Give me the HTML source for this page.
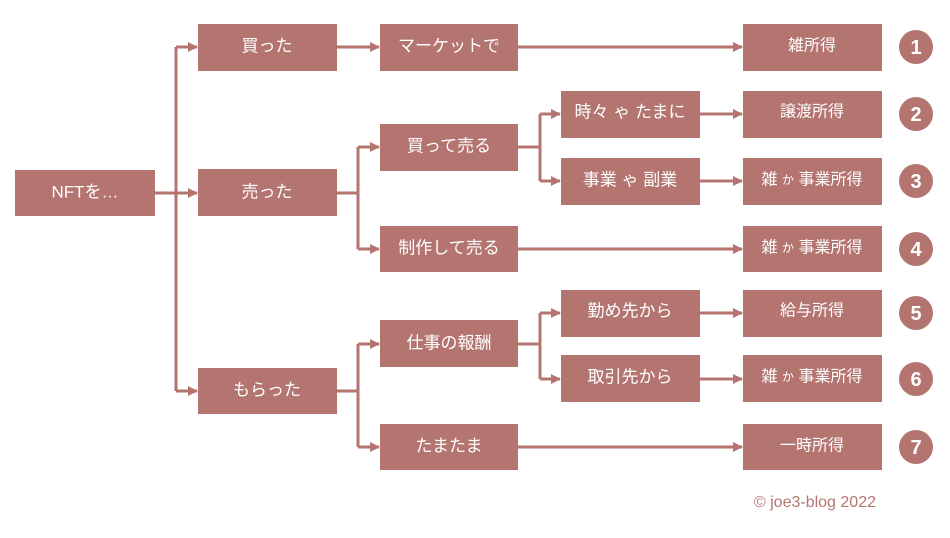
<!DOCTYPE html>
<html><head><meta charset="utf-8"><style>
html,body{margin:0;padding:0;background:#fff;}
svg text{font-family:"Liberation Sans","Noto Sans CJK JP",sans-serif;}
</style></head><body>
<svg width="950" height="533" viewBox="0 0 950 533" xmlns="http://www.w3.org/2000/svg">
<defs>
<marker id="a" markerWidth="10" markerHeight="10" refX="9" refY="5" orient="auto" markerUnits="userSpaceOnUse">
<path d="M0,0 L10,5 L0,10 Z" fill="#b47571"/>
</marker>
</defs>
<g stroke="#b47571" stroke-width="3" fill="none">
<!-- trunk -->
<line x1="155" y1="193" x2="176" y2="193"/>
<line x1="176" y1="47" x2="176" y2="391"/>
<line x1="176" y1="47" x2="197" y2="47" marker-end="url(#a)"/>
<line x1="176" y1="193" x2="197" y2="193" marker-end="url(#a)"/>
<line x1="176" y1="391" x2="197" y2="391" marker-end="url(#a)"/>
<!-- row1 -->
<line x1="337" y1="47" x2="379" y2="47" marker-end="url(#a)"/>
<line x1="518" y1="47" x2="742" y2="47" marker-end="url(#a)"/>
<!-- sold -->
<line x1="337" y1="193" x2="358" y2="193"/>
<line x1="358" y1="147" x2="358" y2="249"/>
<line x1="358" y1="147" x2="379" y2="147" marker-end="url(#a)"/>
<line x1="358" y1="249" x2="379" y2="249" marker-end="url(#a)"/>
<line x1="518" y1="147" x2="540" y2="147"/>
<line x1="540" y1="114" x2="540" y2="181"/>
<line x1="540" y1="114" x2="560" y2="114" marker-end="url(#a)"/>
<line x1="540" y1="181" x2="560" y2="181" marker-end="url(#a)"/>
<line x1="700" y1="114" x2="742" y2="114" marker-end="url(#a)"/>
<line x1="700" y1="181" x2="742" y2="181" marker-end="url(#a)"/>
<line x1="518" y1="249" x2="742" y2="249" marker-end="url(#a)"/>
<!-- received -->
<line x1="337" y1="391" x2="358" y2="391"/>
<line x1="358" y1="344" x2="358" y2="447"/>
<line x1="358" y1="344" x2="379" y2="344" marker-end="url(#a)"/>
<line x1="358" y1="447" x2="379" y2="447" marker-end="url(#a)"/>
<line x1="518" y1="344" x2="540" y2="344"/>
<line x1="540" y1="313" x2="540" y2="379"/>
<line x1="540" y1="313" x2="560" y2="313" marker-end="url(#a)"/>
<line x1="540" y1="379" x2="560" y2="379" marker-end="url(#a)"/>
<line x1="700" y1="313" x2="742" y2="313" marker-end="url(#a)"/>
<line x1="700" y1="379" x2="742" y2="379" marker-end="url(#a)"/>
<line x1="518" y1="447" x2="742" y2="447" marker-end="url(#a)"/>
</g>
<g fill="#b47571">
<rect x="15" y="170" width="140" height="46"/>
<rect x="198" y="24" width="139" height="47"/>
<rect x="198" y="169" width="139" height="47"/>
<rect x="198" y="368" width="139" height="46"/>
<rect x="380" y="24" width="138" height="47"/>
<rect x="380" y="124" width="138" height="47"/>
<rect x="380" y="226" width="138" height="46"/>
<rect x="380" y="320" width="138" height="47"/>
<rect x="380" y="424" width="138" height="46"/>
<rect x="561" y="91" width="139" height="47"/>
<rect x="561" y="158" width="139" height="47"/>
<rect x="561" y="290" width="139" height="47"/>
<rect x="561" y="355" width="139" height="47"/>
<rect x="743" y="24" width="139" height="47"/>
<rect x="743" y="91" width="139" height="47"/>
<rect x="743" y="158" width="139" height="47"/>
<rect x="743" y="226" width="139" height="46"/>
<rect x="743" y="290" width="139" height="47"/>
<rect x="743" y="355" width="139" height="47"/>
<rect x="743" y="424" width="139" height="46"/>
<circle cx="916" cy="47" r="17"/>
<circle cx="916" cy="114" r="17"/>
<circle cx="916" cy="181" r="17"/>
<circle cx="916" cy="249" r="17"/>
<circle cx="916" cy="313" r="17"/>
<circle cx="916" cy="379" r="17"/>
<circle cx="916" cy="447" r="17"/>
</g>
<g fill="#fff" font-size="17" text-anchor="middle" dominant-baseline="central">
<text x="85" y="192">NFTを…</text>
<text x="267" y="46">買った</text>
<text x="267" y="192">売った</text>
<text x="267" y="390">もらった</text>
<text x="449" y="46">マーケットで</text>
<text x="449" y="146">買って売る</text>
<text x="449" y="248">制作して売る</text>
<text x="449" y="343">仕事の報酬</text>
<text x="449" y="446">たまたま</text>
<text x="630" y="112">時々 ゃ たまに</text>
<text x="630" y="180">事業 ゃ 副業</text>
<text x="630" y="311">勤め先から</text>
<text x="630" y="377">取引先から</text>
<text x="812" y="46" font-size="16">雑所得</text>
<text x="812" y="112" font-size="16">譲渡所得</text>
<text x="812" y="180" font-size="16">雑 <tspan font-size="12">か</tspan> 事業所得</text>
<text x="812" y="248" font-size="16">雑 <tspan font-size="12">か</tspan> 事業所得</text>
<text x="812" y="311" font-size="16">給与所得</text>
<text x="812" y="377" font-size="16">雑 <tspan font-size="12">か</tspan> 事業所得</text>
<text x="812" y="446" font-size="16">一時所得</text>
<g font-weight="bold" font-size="20">
<text x="916" y="48">1</text>
<text x="916" y="115">2</text>
<text x="916" y="182">3</text>
<text x="916" y="250">4</text>
<text x="916" y="314">5</text>
<text x="916" y="380">6</text>
<text x="916" y="448">7</text>
</g>
</g>
<text x="876" y="507" text-anchor="end" fill="#b47571" font-size="16">© joe3-blog 2022</text>
</svg>
</body></html>
